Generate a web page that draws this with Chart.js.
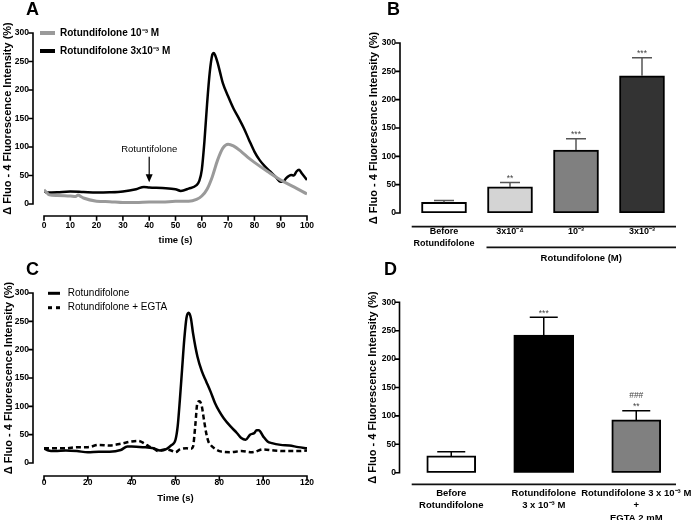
<!DOCTYPE html>
<html>
<head>
<meta charset="utf-8">
<script src="https://cdn.jsdelivr.net/npm/chart.js@4"></script>
<style>
  body { margin: 0; background: #fff; }
  #fig { position: relative; width: 700px; height: 520px; overflow: hidden; }
  canvas { position: absolute; }
  .letter { position: absolute; font: bold 18px "Liberation Sans", Arial, sans-serif; line-height: 1; }
</style>
</head>
<body>
<div id="fig">
  <canvas id="chartA" width="350" height="260" style="left:0;top:0"></canvas>
  <canvas id="chartC" width="350" height="260" style="left:0;top:260px"></canvas>
  <canvas id="chartD" width="350" height="260" style="left:350px;top:260px"></canvas>
  <canvas id="chartB" width="350" height="272" style="left:350px;top:0"></canvas>
  <div class="letter" style="left:26px;top:0">A</div>
  <div class="letter" style="left:387px;top:0">B</div>
  <div class="letter" style="left:26px;top:260px">C</div>
  <div class="letter" style="left:384px;top:260px">D</div>
</div>
<script>
Chart.defaults.font.family = '"Liberation Sans", Arial, Helvetica, sans-serif';
Chart.defaults.color = '#000';
Chart.defaults.animation = false;

const yTitle = '\u0394 Fluo - 4 Fluorescence Intensity (%)';

// A: fluorescence traces
const timeA1 = [0, 1, 2, 5, 10, 12, 13, 14, 15, 20, 25, 30, 35, 40, 45, 50, 55, 58, 60, 62, 64, 66, 68, 70, 72, 75, 78, 80, 85, 90, 95, 100];
const fluoA1 = [25, 20, 16, 15, 14, 13, 16, 13, 10.5, 5, 4, 2.5, 2.5, 3.5, 3.5, 4.7, 4.7, 8, 14, 26, 48, 77, 98, 105, 102, 92, 80, 73, 57, 42, 30, 17.5];
const timeA2 = [0, 1, 5, 10, 15, 20, 25, 30, 35, 38, 40, 45, 50, 52, 55, 58, 59, 60, 61, 62, 63, 64, 64.5, 65, 66, 67, 68, 70, 72, 74, 76, 78, 80, 82, 84, 86, 88, 90, 91, 92, 94, 95, 96, 97, 98, 100];
const fluoA2 = [23, 20, 20.5, 22, 21, 20, 20.5, 22, 26, 30, 29, 28, 26, 23, 27, 33, 40, 60, 110, 175, 230, 262, 265, 262, 248, 230, 212, 189, 168, 151, 133, 112, 92, 77, 66, 57, 48, 39, 39, 45, 51, 50, 57, 60, 54, 42];
const labelsA = ['Rotundifolone 10\u207B\u00B3 M', 'Rotundifolone 3x10\u207B\u00B3 M'];
const stimTime = 40;
const stimLabel = 'Rotuntifolone';

// B: concentration response
const catsB = [['Before', 'Rotundifolone'], '3x10\u207B\u2074', '10\u207B\u00B3', '3x10\u207B\u00B3'];
const meanB = [19, 46, 111, 242];
const semB = [3, 8, 20, 32];
const starsB = [[], ['**'], ['***'], ['***']];
const colorsB = ['#ffffff', '#d4d4d4', '#808080', '#333333'];

// C: with / without EGTA
const timeC1 = [0, 2, 5, 10, 15, 20, 25, 30, 35, 38, 40, 45, 50, 53, 56, 58, 60, 61, 62, 63, 64, 65, 66, 67, 68, 70, 72, 74, 76, 78, 80, 82, 85, 88, 90, 92, 94, 96, 97, 98, 100, 102, 104, 108, 112, 116, 120];
const fluoC1 = [26, 22, 21, 22, 21, 19, 20, 20, 23, 29, 29, 28, 26, 22, 25, 31, 41, 65, 112, 165, 218, 256, 265, 256, 229, 188, 162, 144, 126, 106, 91, 79, 65, 53, 44, 41, 50, 53, 58, 58, 47, 38, 35, 32, 31, 28, 26];
const timeC2 = [0, 5, 10, 15, 20, 25, 30, 35, 40, 43, 46, 48, 50, 52, 55, 58, 60, 62, 65, 67, 68, 69, 70, 71, 72, 73, 74, 75, 76, 78, 80, 85, 90, 95, 100, 105, 110, 115, 120];
const fluoC2 = [26, 26, 26, 28, 28, 32, 31, 34, 38, 39, 34, 29, 26, 21, 24, 22, 19, 24, 26, 25, 29, 65, 106, 109, 100, 76, 53, 38, 32, 25, 21, 19, 21, 19, 24, 22, 21, 21, 22];
const labelsC = ['Rotundifolone', 'Rotundifolone + EGTA'];

// D: effect of EGTA
const catsD = [['Before', 'Rotundifolone'], ['Rotundifolone', '3 x 10\u207B\u00B3 M'], ['Rotundifolone 3 x 10\u207B\u00B3 M', '+', 'EGTA 2 mM']];
const meanD = [29.5, 242.5, 93];
const semD = [7.5, 31, 16];
const starsD = [[], ['***'], ['**', '###']];
const colorsD = ['#ffffff', '#000000', '#808080'];

// GraphPad-like offset axes, legends, error bars and group rules
const figureExtras = {
  id: 'figureExtras',
  afterDatasetsDraw(chart, args, o) {
    const ctx = chart.ctx;
    const area = chart.chartArea;
    const xs = chart.scales.x, ys = chart.scales.y;
    ctx.save();
    ctx.strokeStyle = '#000';
    ctx.fillStyle = '#000';
    ctx.lineWidth = 1.6;
    ctx.lineCap = 'square';

    const ax = area.left - o.gapY;
    ctx.beginPath();
    ctx.moveTo(ax, ys.getPixelForValue(ys.max));
    ctx.lineTo(ax, ys.getPixelForValue(ys.min));
    ys.ticks.forEach(t => {
      const py = ys.getPixelForValue(t.value);
      ctx.moveTo(ax - 4, py); ctx.lineTo(ax, py);
    });
    ctx.stroke();

    if (o.gapX) {
      const ay = area.bottom + o.gapX;
      ctx.beginPath();
      ctx.moveTo(xs.getPixelForValue(xs.min), ay);
      ctx.lineTo(xs.getPixelForValue(xs.max), ay);
      xs.ticks.forEach(t => {
        const px = xs.getPixelForValue(t.value);
        ctx.moveTo(px, ay); ctx.lineTo(px, ay + 4);
      });
      ctx.stroke();
    }
    ctx.lineCap = 'butt';

    if (o.legend) {
      const L = o.legend;
      chart.data.datasets.forEach((ds, i) => {
        const y = L.y + i * L.dy;
        ctx.strokeStyle = ds.borderColor;
        ctx.lineWidth = L.lineWidth;
        ctx.setLineDash(ds.borderDash ? L.dash : []);
        ctx.beginPath(); ctx.moveTo(L.x, y); ctx.lineTo(L.x + L.len, y); ctx.stroke();
        ctx.setLineDash([]);
        ctx.fillStyle = '#000';
        ctx.font = L.font;
        ctx.textAlign = 'left';
        ctx.textBaseline = 'middle';
        ctx.fillText(ds.label, L.textX, y);
      });
    }

    if (o.note) {
      const px = xs.getPixelForValue(o.note.at);
      const yTxt = ys.getPixelForValue(o.note.textAt);
      const yFrom = ys.getPixelForValue(o.note.from);
      const yTo = ys.getPixelForValue(o.note.to);
      ctx.fillStyle = '#000';
      ctx.font = '9.5px "Liberation Sans", Arial, sans-serif';
      ctx.textAlign = 'center';
      ctx.textBaseline = 'middle';
      ctx.fillText(o.note.text, px, yTxt);
      ctx.strokeStyle = '#000';
      ctx.lineWidth = 1.2;
      ctx.beginPath(); ctx.moveTo(px, yFrom); ctx.lineTo(px, yTo - 6); ctx.stroke();
      ctx.beginPath(); ctx.moveTo(px - 3.5, yTo - 8); ctx.lineTo(px + 3.5, yTo - 8); ctx.lineTo(px, yTo); ctx.closePath(); ctx.fill();
    }

    if (o.errors) {
      const E = o.errors;
      chart.data.datasets.forEach((ds, di) => {
        const meta = chart.getDatasetMeta(di);
        meta.data.forEach((bar, i) => {
          const v = ds.data[i];
          if (v == null) return;
          const top = ys.getPixelForValue(v + ds.sem[i]);
          ctx.strokeStyle = E.color;
          ctx.lineWidth = 1.5;
          ctx.beginPath();
          ctx.moveTo(bar.x, bar.y); ctx.lineTo(bar.x, top);
          ctx.moveTo(bar.x - E.cap / 2, top); ctx.lineTo(bar.x + E.cap / 2, top);
          ctx.stroke();
          ctx.fillStyle = E.starColor;
          ctx.font = '8.5px "Liberation Sans", Arial, sans-serif';
          ctx.textAlign = 'center';
          ctx.textBaseline = 'alphabetic';
          (ds.stars[i] || []).forEach((s, k) => ctx.fillText(s, bar.x, top - 1.5 - k * 11));
        });
      });
    }

    if (o.rules) {
      const R = o.rules;
      ctx.strokeStyle = '#111';
      ctx.lineWidth = 1.8;
      const y1 = area.bottom + R.gap;
      ctx.beginPath(); ctx.moveTo(R.left, y1); ctx.lineTo(R.right, y1); ctx.stroke();
      if (R.groupText) {
        const y2 = area.bottom + R.groupGap;
        const gx = xs.getPixelForTick(R.groupFrom) - R.groupInset;
        ctx.beginPath(); ctx.moveTo(gx, y2); ctx.lineTo(R.right, y2); ctx.stroke();
        ctx.fillStyle = '#000';
        ctx.font = 'bold 9.5px "Liberation Sans", Arial, sans-serif';
        ctx.textAlign = 'center';
        ctx.textBaseline = 'middle';
        ctx.fillText(R.groupText, (gx + R.right) / 2, y2 + 11);
      }
    }
    ctx.restore();
  }
};

function yAxis(width, tickPad, titlePad) {
  return {
    min: 0, max: 300,
    grid: { display: false, drawTicks: false },
    border: { display: false },
    ticks: { stepSize: 50, padding: tickPad, font: { size: 8.5, weight: 'bold' } },
    title: { display: true, text: yTitle, font: { size: 11, weight: 'bold' }, padding: { top: titlePad, bottom: 0 } },
    afterFit(s) { s.width = width; s.paddingTop = 0; s.paddingBottom = 0; }
  };
}

function timeAxis(max, step, height, tickPad, title) {
  return {
    type: 'linear', min: 0, max: max,
    grid: { display: false, drawTicks: false },
    border: { display: false },
    ticks: { stepSize: step, padding: tickPad, maxRotation: 0, font: { size: 8.5, weight: 'bold' } },
    title: { display: true, text: title, font: { size: 9.5, weight: 'bold' }, padding: { top: 0, bottom: 4 } },
    afterFit(s) { s.height = height; s.paddingLeft = 0; s.paddingRight = 0; }
  };
}

function catAxis(height, tickPad, size, lh) {
  return {
    grid: { display: false, drawTicks: false },
    border: { display: false },
    ticks: { padding: tickPad, autoSkip: false, minRotation: 0, maxRotation: 0, font: { size: size, weight: 'bold', lineHeight: lh } },
    afterFit(s) { s.height = height; s.paddingLeft = 0; s.paddingRight = 0; }
  };
}

function points(t, v) {
  return t.map((x, i) => ({ x: x, y: v[i] }));
}

// A
new Chart(document.getElementById('chartA'), {
  type: 'line',
  data: {
    datasets: [
      { label: labelsA[0], data: points(timeA1, fluoA1), borderColor: '#9a9a9a', borderWidth: 3, pointRadius: 0, cubicInterpolationMode: 'monotone' },
      { label: labelsA[1], data: points(timeA2, fluoA2), borderColor: '#000000', borderWidth: 2.5, pointRadius: 0, cubicInterpolationMode: 'monotone' }
    ]
  },
  options: {
    responsive: false,
    layout: { padding: { top: 33, right: 43, bottom: 10, left: 0 } },
    scales: { x: timeAxis(100, 10, 46, 17, 'time (s)'), y: yAxis(44, 15, 1.7) },
    plugins: {
      legend: { display: false },
      tooltip: { enabled: false },
      figureExtras: {
        gapY: 11, gapX: 12,
        legend: { x: 40, y: 33, dy: 18, len: 15, textX: 60, lineWidth: 4, dash: [], font: 'bold 10px "Liberation Sans", Arial, sans-serif' },
        note: { at: stimTime, text: stimLabel, textAt: 95, from: 83, to: 38 }
      }
    }
  },
  plugins: [figureExtras]
});

// B
new Chart(document.getElementById('chartB'), {
  type: 'bar',
  data: {
    labels: catsB,
    datasets: [{
      data: meanB, sem: semB, stars: starsB,
      backgroundColor: colorsB, borderColor: '#000', borderWidth: 2, borderSkipped: false, barThickness: 45
    }]
  },
  options: {
    responsive: false,
    layout: { padding: { top: 43, right: 25, bottom: 12, left: 0 } },
    scales: { x: catAxis(47, 12.5, 9, 1.35), y: yAxis(61, 15, 17) },
    plugins: {
      legend: { display: false },
      tooltip: { enabled: false },
      figureExtras: {
        gapY: 11,
        errors: { color: '#555', cap: 20, starColor: '#444' },
        rules: { gap: 13.7, left: 61.7, right: 326, groupText: 'Rotundifolone (M)', groupGap: 34.3, groupFrom: 1, groupInset: 23.5 }
      }
    }
  },
  plugins: [figureExtras]
});

// C
new Chart(document.getElementById('chartC'), {
  type: 'line',
  data: {
    datasets: [
      { label: labelsC[0], data: points(timeC1, fluoC1), borderColor: '#000000', borderWidth: 2.5, pointRadius: 0, cubicInterpolationMode: 'monotone' },
      { label: labelsC[1], data: points(timeC2, fluoC2), borderColor: '#000000', borderWidth: 2.5, borderDash: [5, 3], pointRadius: 0, cubicInterpolationMode: 'monotone' }
    ]
  },
  options: {
    responsive: false,
    layout: { padding: { top: 33, right: 43, bottom: 12, left: 0 } },
    scales: { x: timeAxis(120, 20, 45, 15, 'Time (s)'), y: yAxis(44, 15, 2) },
    plugins: {
      legend: { display: false },
      tooltip: { enabled: false },
      figureExtras: {
        gapY: 11, gapX: 13,
        legend: { x: 48, y: 33.3, dy: 14.4, len: 12, textX: 67.7, lineWidth: 3, dash: [4, 4], font: '10px "Liberation Sans", Arial, sans-serif' }
      }
    }
  },
  plugins: [figureExtras]
});

// D
new Chart(document.getElementById('chartD'), {
  type: 'bar',
  data: {
    labels: catsD,
    datasets: [
      {
        data: meanD.map((v, i) => i === 1 ? null : v), sem: semD, stars: starsD,
        backgroundColor: colorsD, borderColor: '#000', borderWidth: 2, borderSkipped: false, barThickness: 49, grouped: false
      },
      {
        data: meanD.map((v, i) => i === 1 ? v : null), sem: semD, stars: starsD,
        backgroundColor: colorsD, borderColor: '#000', borderWidth: 2, borderSkipped: false, barThickness: 60, grouped: false
      }
    ]
  },
  options: {
    responsive: false,
    layout: { padding: { top: 42.3, right: 17.5, bottom: 0, left: 0 } },
    scales: { x: catAxis(47.3, 14.4, 9.5, 1.3), y: yAxis(55, 9, 16.5) },
    plugins: {
      legend: { display: false },
      tooltip: { enabled: false },
      figureExtras: {
        gapY: 5.5,
        errors: { color: '#000', cap: 28, starColor: '#444' },
        rules: { gap: 11.6, left: 61.7, right: 326 }
      }
    }
  },
  plugins: [figureExtras]
});
</script>
</body>
</html>
